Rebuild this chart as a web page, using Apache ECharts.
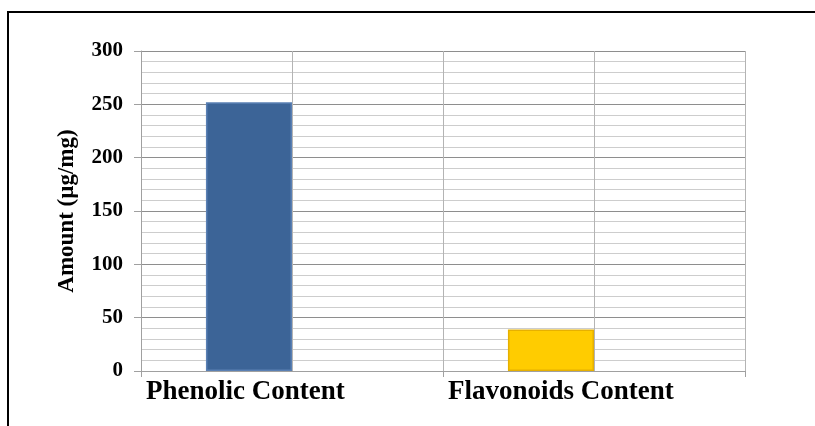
<!DOCTYPE html>
<html>
<head>
<meta charset="utf-8">
<script src="https://cdn.jsdelivr.net/npm/echarts@6/dist/echarts.min.js"></script>
<style>
  html, body { margin: 0; padding: 0; background: #fff; }
  #chart { width: 815px; height: 426px; }
</style>
</head>
<body>
<div id="chart"></div>
<script>
// Categories and measured amounts (µg/mg)
const categories = ['Phenolic Content', 'Flavonoids Content'];
const amounts = [252, 39];
const emptySeries = [0, 0];
const barColors = ['#3c6497', '#ffcc00'];
const barEdges = ['#5a80b4', '#e6b000'];
const yTicks = { min: 0, max: 300, step: 50 };

const serif = '"Liberation Serif", "Times New Roman", serif';

const amountItems = amounts.map(function (v, i) {
  return { value: v, itemStyle: { color: barColors[i], borderColor: barEdges[i], borderWidth: 1.5 } };
});

const chart = echarts.init(document.getElementById('chart'));

chart.setOption({
  animation: false,
  backgroundColor: '#ffffff',
  graphic: [{
    type: 'rect',
    shape: { x: 8, y: 12, width: 900, height: 500 },
    style: { fill: 'none', stroke: '#000', lineWidth: 2 },
    silent: true,
    z: 100
  }],
  grid: { left: 141, right: 70, top: 51, bottom: 55, containLabel: false },
  xAxis: [
    {
      type: 'category',
      data: categories,
      position: 'bottom',
      boundaryGap: true,
      axisLine: { show: true, lineStyle: { color: '#a0a0a0', width: 1 } },
      axisTick: { show: true, length: 6, lineStyle: { color: '#a0a0a0' } },
      axisLabel: { show: false },
      splitLine: { show: false }
    },
    {
      // half-category grid columns and left-aligned category names
      type: 'value',
      position: 'bottom',
      min: 0,
      max: categories.length * 2,
      interval: 1,
      axisLine: { show: false },
      axisTick: { show: false },
      splitLine: { show: true, lineStyle: { color: '#b4b4b4', width: 1 } },
      axisLabel: {
        show: true,
        showMaxLabel: false,
        align: 'left',
        margin: 8,
        padding: [0, 0, 0, 5],
        fontFamily: serif,
        fontWeight: 'bold',
        fontSize: 27,
        color: '#000',
        formatter: function (v) {
          return (v % 2 === 0 && v / 2 < categories.length) ? categories[v / 2] : '';
        }
      }
    }
  ],
  yAxis: {
    type: 'value',
    min: yTicks.min,
    max: yTicks.max,
    interval: yTicks.step,
    name: 'Amount (µg/mg)',
    nameLocation: 'middle',
    nameGap: 62,
    nameTextStyle: { fontFamily: serif, fontWeight: 'bold', fontSize: 23, color: '#000' },
    axisLine: { show: true, lineStyle: { color: '#a0a0a0', width: 1 } },
    axisTick: { show: true, length: 7, lineStyle: { color: '#a0a0a0' } },
    minorTick: { show: false, splitNumber: 5 },
    axisLabel: {
      margin: 18,
      fontFamily: serif,
      fontWeight: 'bold',
      fontSize: 21,
      color: '#000'
    },
    splitLine: { show: true, lineStyle: { color: '#8e8e8e', width: 1 } },
    minorSplitLine: { show: true, lineStyle: { color: '#cdcdcd', width: 1 } }
  },
  series: [
    {
      type: 'bar',
      xAxisIndex: 0,
      data: amountItems,
      barGap: '0%',
      barCategoryGap: '43%'
    },
    {
      type: 'bar',
      xAxisIndex: 0,
      data: emptySeries,
      barGap: '0%',
      barCategoryGap: '43%',
      itemStyle: { color: '#c8c8c8', borderWidth: 0 }
    }
  ]
});
</script>
</body>
</html>
